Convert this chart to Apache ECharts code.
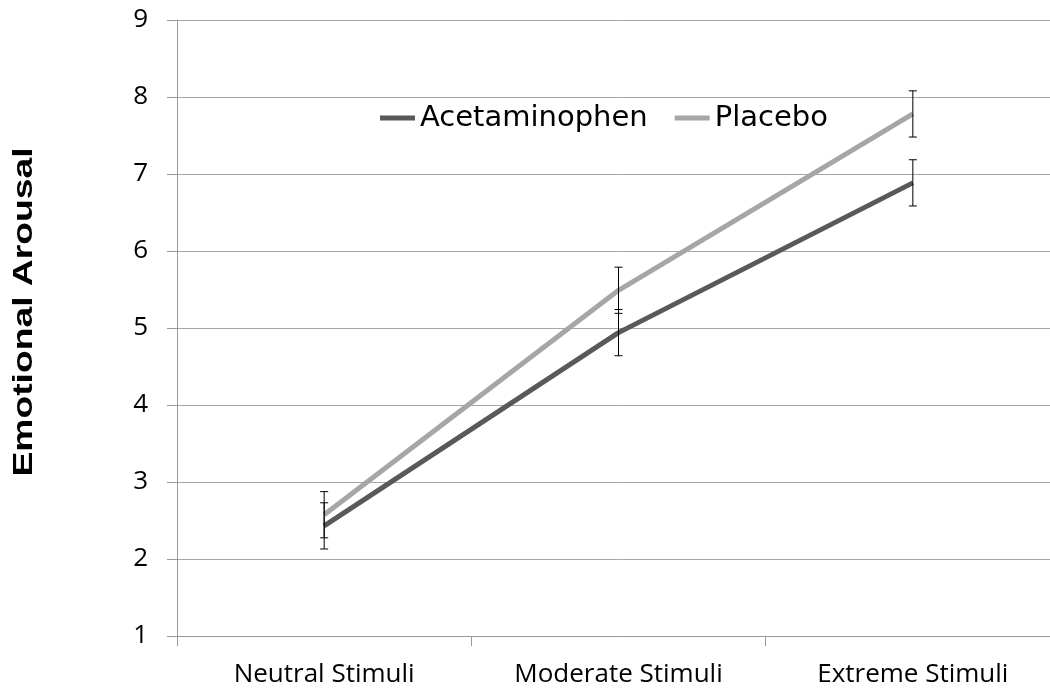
<!DOCTYPE html>
<html>
<head>
<meta charset="utf-8">
<script src="https://cdn.jsdelivr.net/npm/echarts@6/dist/echarts.min.js"></script>
<style>
html,body{margin:0;padding:0;background:#fff;overflow:hidden;}
#chart{width:1062px;height:690px;}
</style>
</head>
<body>
<div id="chart"></div>
<script>
var categories = ['Neutral Stimuli', 'Moderate Stimuli', 'Extreme Stimuli'];
var acetaminophen = [2.43, 4.94, 6.885];
var placebo = [2.575, 5.49, 7.78];
var acetaminophenErr = [0.30, 0.30, 0.30];
var placeboErr = [0.30, 0.30, 0.30];
var yTicks = [1, 2, 3, 4, 5, 6, 7, 8, 9];

var errData = [];
for (var i = 0; i < categories.length; i++) {
  errData.push([i, acetaminophen[i] - acetaminophenErr[i], acetaminophen[i] + acetaminophenErr[i]]);
  errData.push([i, placebo[i] - placeboErr[i], placebo[i] + placeboErr[i]]);
}

var chart = echarts.init(document.getElementById('chart'));
chart.setOption({
  animation: false,
  backgroundColor: '#ffffff',
  grid: {left: 177, top: 20, width: 883, height: 616, containLabel: false},
  legend: {
    left: 380, top: 103, padding: 0,
    itemWidth: 35, itemHeight: 5, itemGap: 27,
    data: [{name: 'Acetaminophen', icon: 'rect'}, {name: 'Placebo', icon: 'rect'}],
    textStyle: {fontFamily: 'DejaVu Sans', fontSize: 29, color: '#000', lineHeight: 30}
  },
  graphic: [{
    type: 'text',
    x: 24, y: 312,
    rotation: Math.PI / 2,
    scaleX: 1.33,
    style: {
      text: 'Emotional Arousal',
      font: 'bold 28px "Liberation Sans", Arial, sans-serif',
      fill: '#000',
      align: 'center',
      verticalAlign: 'middle'
    }
  }],
  xAxis: {
    type: 'category',
    data: categories,
    boundaryGap: true,
    axisLine: {show: true, lineStyle: {color: '#9a9a9a', width: 1}},
    axisTick: {show: true, length: 10, lineStyle: {color: '#9a9a9a'}},
    axisLabel: {fontFamily: 'Open Sans', fontSize: 26, color: '#000', margin: 26},
    splitLine: {show: false}
  },
  yAxis: {
    type: 'value',
    min: yTicks[0], max: yTicks[yTicks.length - 1], interval: 1,
    axisLine: {show: true, lineStyle: {color: '#9a9a9a', width: 1}},
    axisTick: {show: true, length: 10, lineStyle: {color: '#9a9a9a'}},
    axisLabel: {fontFamily: 'Open Sans', fontSize: 26, color: '#000', margin: 29},
    splitLine: {show: true, lineStyle: {color: '#a6a6a6', width: 1}}
  },
  series: [
    {
      name: 'Acetaminophen', type: 'line', data: acetaminophen,
      symbol: 'none', lineStyle: {color: '#595959', width: 5}, itemStyle: {color: '#595959'}, z: 2
    },
    {
      name: 'Placebo', type: 'line', data: placebo,
      symbol: 'none', lineStyle: {color: '#a6a6a6', width: 5}, itemStyle: {color: '#a6a6a6'}, z: 2
    },
    {
      type: 'custom', name: 'err', data: errData, z: 5,
      renderItem: function (params, api) {
        var x = api.value(0);
        var lo = api.coord([x, api.value(1)]);
        var hi = api.coord([x, api.value(2)]);
        var hw = 4;
        var style = {stroke: '#000', lineWidth: 1};
        return {
          type: 'group',
          children: [
            {type: 'line', shape: {x1: lo[0], y1: lo[1], x2: hi[0], y2: hi[1]}, style: style},
            {type: 'line', shape: {x1: lo[0] - hw, y1: lo[1], x2: lo[0] + hw, y2: lo[1]}, style: style},
            {type: 'line', shape: {x1: hi[0] - hw, y1: hi[1], x2: hi[0] + hw, y2: hi[1]}, style: style}
          ]
        };
      }
    }
  ]
});
</script>
</body>
</html>
